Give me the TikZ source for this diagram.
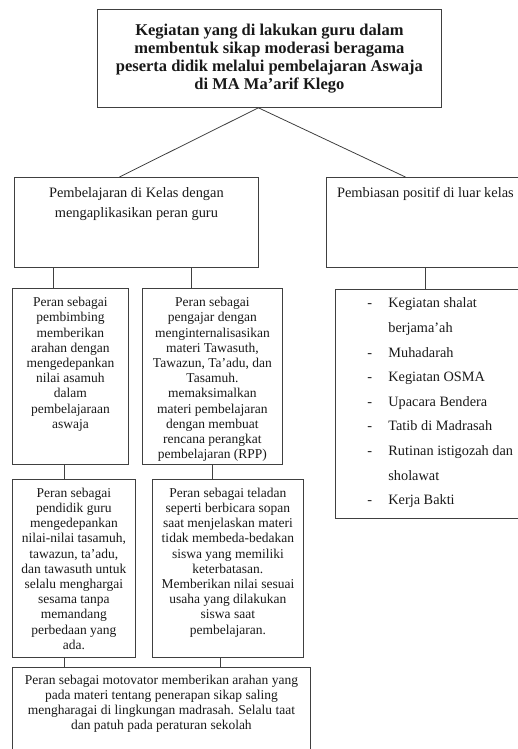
\documentclass[tikz,border=0pt]{standalone}
\usepackage{fontspec}
\setmainfont{Liberation Serif}

\newcommand{\isikotak}[4]{\parbox[t][#1pt][t]{#2pt}{\centering\vspace*{#3pt}#4}}
\newcommand{\kecil}{\fontsize{13.5pt}{15.2pt}\selectfont}
\newcommand{\butir}[1]{\hspace*{32pt}\makebox[21pt][l]{-}#1}

\begin{document}
\begin{tikzpicture}[x=1pt,y=-1pt,
    kotak/.style={draw=black!75, line width=0.8pt, rectangle, inner sep=0pt, anchor=north west, text=black!90},
    garis/.style={draw=black!75, line width=0.8pt}]
        \useasboundingbox (0,0) rectangle (517,749);

        \node (judul) [kotak, minimum width=344pt, minimum height=98pt, align=center, font={\bfseries\fontsize{16.5pt}{18pt}\selectfont}] at (97,9) {Kegiatan yang di lakukan guru dalam\\ membentuk sikap moderasi beragama\\ peserta didik melalui pembelajaran Aswaja\\ di MA Ma’arif Klego};
        \node (kelas) [kotak, font={\fontsize{14.4pt}{20pt}\selectfont}] at (14,177) {\isikotak{90}{244}{10}{Pembelajaran di Kelas dengan\\ mengaplikasikan peran guru}};
        \node (luar) [kotak, font={\fontsize{14.4pt}{20pt}\selectfont}] at (326,177) {\isikotak{90}{198}{10}{Pembiasan positif di luar kelas}};
        \node (pembimbing) [kotak, font=\kecil] at (12,288) {\isikotak{176}{116}{9}{Peran sebagai\\ pembimbing\\ memberikan\\ arahan dengan\\ mengedepankan\\ nilai asamuh\\ dalam\\ pembelajaraan\\ aswaja}};
        \node (pengajar) [kotak, font=\kecil] at (142,288) {\isikotak{176}{140}{9}{Peran sebagai\\ pengajar dengan\\ menginternalisasikan\\ materi Tawasuth,\\ Tawazun, Ta'adu, dan\\ Tasamuh.\\ memaksimalkan\\ materi pembelajaran\\ dengan membuat\\ rencana perangkat\\ pembelajaran (RPP)}};
        \node (pendidik) [kotak, font=\kecil] at (12,479) {\isikotak{178}{123}{8.5}{Peran sebagai\\ pendidik guru\\ mengedepankan\\ nilai-nilai tasamuh,\\ tawazun, ta'adu,\\ dan tawasuth untuk\\ selalu menghargai\\ sesama tanpa\\ memandang\\ perbedaan yang\\ ada.}};
        \node (teladan) [kotak, font=\kecil] at (152,479) {\isikotak{178}{151}{8.5}{Peran sebagai teladan\\ seperti berbicara sopan\\ saat menjelaskan materi\\ tidak membeda-bedakan\\ siswa yang memiliki\\ keterbatasan.\\ Memberikan nilai sesuai\\ usaha yang dilakukan\\ siswa saat\\ pembelajaran.}};
        \node (motivator) [kotak, font=\kecil] at (12,667) {\isikotak{100}{298}{7.5}{Peran sebagai motovator memberikan arahan yang\\ pada materi tentang penerapan sikap saling\\ mengharagai di lingkungan madrasah. Selalu taat\\ dan patuh pada peraturan sekolah}};
        \node (kegiatan) [kotak, font={\fontsize{14.3pt}{24.6pt}\selectfont}] at (335,289) {\parbox[t][229pt][t]{195pt}{\raggedright\vspace*{8.5pt}
            \butir{Kegiatan shalat}\\
            \hspace*{53pt}berjama'ah\\
            \butir{Muhadarah}\\
            \butir{Kegiatan OSMA}\\
            \butir{Upacara Bendera}\\
            \butir{Tatib di Madrasah}\\
            \butir{Rutinan istigozah dan}\\
            \hspace*{53pt}sholawat\\
            \butir{Kerja Bakti}}};

        \draw[garis] ([xshift=-11pt]judul.south) -- ([xshift=-17pt]kelas.north);
        \draw[garis] ([xshift=-11pt]judul.south) -- ([xshift=-20pt]luar.north);
        \draw[garis] ([xshift=-17pt]pembimbing.north) -- ([xshift=-17pt]pembimbing.north |- kelas.south);
        \draw[garis] ([xshift=-21pt]pengajar.north) -- ([xshift=-21pt]pengajar.north |- kelas.south);
        \draw[garis] ([xshift=-6pt]pembimbing.south) -- ([xshift=-6pt]pembimbing.south |- pendidik.north);
        \draw[garis] (pengajar.south) -- (pengajar.south |- teladan.north);
        \draw[garis] ([xshift=-9.5pt]pendidik.south) -- ([xshift=-9.5pt]pendidik.south |- motivator.north);
        \draw[garis] ([xshift=-7.5pt]teladan.south) -- ([xshift=-7.5pt]teladan.south |- motivator.north);
        \draw[garis] (luar.south) -- (luar.south |- kegiatan.north);
    \end{tikzpicture}
\end{document}
